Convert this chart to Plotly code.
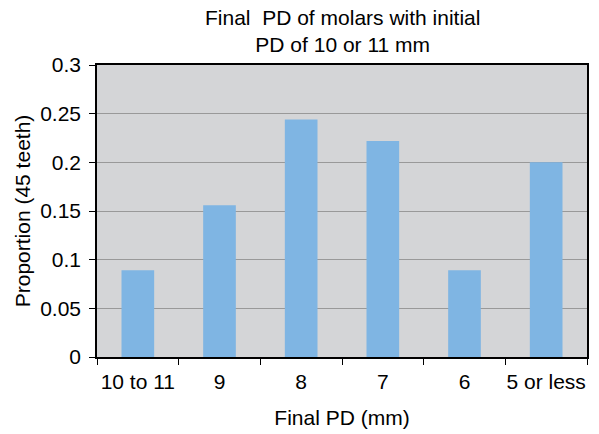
import plotly.graph_objects as go

categories = ["10 to 11", "9", "8", "7", "6", "5 or less"]
proportions = [0.089, 0.156, 0.244, 0.222, 0.089, 0.200]
y_ticks = [0, 0.05, 0.1, 0.15, 0.2, 0.25, 0.3]
y_tick_labels = ["0", "0.05", "0.1", "0.15", "0.2", "0.25", "0.3"]
title_text = "Final  PD of molars with initial<br>PD of 10 or 11 mm"

font = "Arial, Liberation Sans, Helvetica, sans-serif"
fs = 21

fig = go.Figure(go.Bar(x=categories, y=proportions, marker=dict(color="#7fb5e3", line=dict(width=0))))

fig.update_layout(
    width=599, height=434,
    margin=dict(l=97, r=12, t=65, b=77),
    paper_bgcolor="white", plot_bgcolor="#d4d5d7",
    bargap=0.6,
    showlegend=False,
    font=dict(family=font, size=fs, color="black"),
)
fig.add_annotation(text=title_text, xref="paper", yref="paper", x=0.5, y=1, xanchor="center",
                   yanchor="bottom", yshift=7, showarrow=False, font=dict(size=fs))
fig.update_xaxes(
    type="category", tickson="boundaries", ticks="outside", ticklen=6, tickcolor="black",
    showline=True, linecolor="black", linewidth=1.5, mirror=True, showgrid=False,
    tickangle=0, automargin=False, ticklabelstandoff=5,
    title=dict(text="Final PD (mm)", standoff=18, font=dict(size=fs)), tickfont=dict(size=fs),
)
fig.update_yaxes(
    range=[0, 0.3], tickvals=y_ticks, ticktext=y_tick_labels, ticks="outside", ticklen=6, tickcolor="black",
    showline=True, linecolor="black", linewidth=1.5, mirror=True, automargin=False, ticklabelstandoff=4,
    showgrid=True, gridcolor="#999999", gridwidth=1, zeroline=False,
    title=dict(text="Proportion (45 teeth)", standoff=4, font=dict(size=fs)), tickfont=dict(size=fs),
)

fig.write_html("out.html")
